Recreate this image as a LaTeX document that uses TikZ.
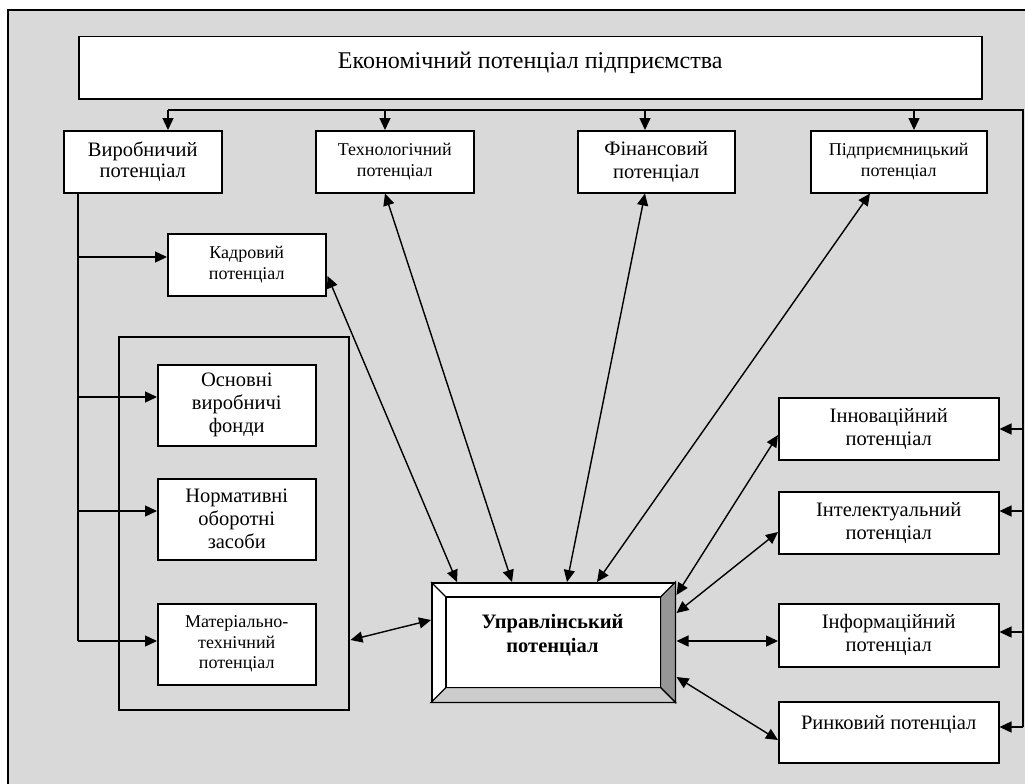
\documentclass[tikz,border=0pt]{standalone}
\usepackage{fontspec}
\setmainfont{Liberation Serif}
\usetikzlibrary{arrows.meta,calc}
\definecolor{bg}{HTML}{D9D9D9}
\definecolor{bevR}{HTML}{969696}
\definecolor{bevB}{HTML}{CCCCCC}
\newcommand\fs[2]{\fontsize{#1}{#2}\selectfont}
\newcommand\lift[2]{\raisebox{#1}[\height][\depth]{#2}}
\begin{document}
\begin{tikzpicture}[x=1pt,y=-1pt,
  box/.style={draw=black, line width=1.5pt, fill=white, inner sep=0pt, align=center, anchor=north west, font=\fs{20.5}{23}},
  small/.style={font=\fs{18}{20.5}},
  ln/.style={line width=1.4pt},
  arr/.style={line width=1.4pt, -{Triangle[length=12pt,width=11pt]}},
  darr/.style={line width=1.4pt, {Triangle[length=12pt,width=11pt]}-{Triangle[length=12pt,width=11pt]}}]
\useasboundingbox (0,0) rectangle (1025,784);
% background and frame
\fill[bg] (8,10) rectangle (1025,784);
\draw[line width=1.5pt] (8,784) -- (8,10) -- (1025,10);
% group frame
\node[draw, line width=1.5pt, minimum width=230pt, minimum height=373pt, anchor=north west, inner sep=0pt] (grp) at (118,336) {};
% boxes
\node[box, minimum width=903pt, minimum height=62pt, font=\fs{24}{27}] (eco) at (78,36) {\lift{5pt}{Економічний потенціал підприємства}};
\node[box, minimum width=158pt, minimum height=62pt] (vir) at (63,130) {\lift{-1pt}{\begin{tabular}{@{}c@{}}Виробничий\\[-2pt]потенціал\end{tabular}}};
\node[box, small, minimum width=158pt, minimum height=62pt] (tex) at (315,130) {Технологічний\\потенціал};
\node[box, minimum width=157pt, minimum height=62pt] (fin) at (577,130) {Фінансовий\\потенціал};
\node[box, small, minimum width=176pt, minimum height=62pt] (pid) at (810,130) {Підприємницький\\потенціал};
\node[box, small, minimum width=158pt, minimum height=62pt] (kad) at (167,233) {Кадровий\\потенціал};
\node[box, minimum width=158pt, minimum height=81pt] (osn) at (157,364) {Основні\\виробничі\\фонди};
\node[box, minimum width=158pt, minimum height=81pt] (nor) at (157,478) {Нормативні\\оборотні\\засоби};
\node[box, small, minimum width=158pt, minimum height=81pt] (mat) at (157,603) {Матеріально-\\технічний\\потенціал};
\node[box, minimum width=220pt, minimum height=62pt] (inn) at (778,397) {Інноваційний\\потенціал};
\node[box, minimum width=220pt, minimum height=62pt] (int) at (778,491) {Інтелектуальний\\потенціал};
\node[box, minimum width=220pt, minimum height=63pt] (inf) at (778,603) {Інформаційний\\потенціал};
\node[box, minimum width=220pt, minimum height=61pt] (rin) at (778,701) {\lift{8pt}{Ринковий потенціал}};
% management box with bevel
\node[draw, line width=1.5pt, fill=white, minimum width=243pt, minimum height=119pt, anchor=north west, inner sep=0pt] (upr) at (431,582) {};
\draw[line width=1.2pt, fill=bevR] (upr.north east) -- (upr.south east) -- ($(upr.south east)+(-15,-15)$) -- ($(upr.north east)+(-15,15)$) -- cycle;
\draw[line width=1.2pt, fill=bevB] (upr.south west) -- (upr.south east) -- ($(upr.south east)+(-15,-15)$) -- ($(upr.south west)+(15,-15)$) -- cycle;
\draw[line width=1.2pt] (upr.north west) -- ($(upr.north west)+(15,15)$);
\draw[line width=1.5pt, fill=white] ($(upr.north west)+(15,15)$) rectangle ($(upr.south east)+(-15,-15)$);
\node[font=\bfseries\fs{20.5}{24}, align=center] (uprtxt) at (552.5,635) {Управлінський\\потенціал};
% bus from the top
\coordinate (b1) at (168,110);
\coordinate (b2) at (385,110);
\coordinate (b3) at (645,110);
\coordinate (b4) at (914,110);
\coordinate (bR) at (1023,110);
\coordinate (bE) at (1023,727);
\draw[ln] (b1) -- (bR) -- (bE);
\draw[arr] (b1) -- (vir.north -| b1);
\draw[arr] (b2) -- (tex.north -| b2);
\draw[arr] (b3) -- (fin.north -| b3);
\draw[arr] (b4) -- (pid.north -| b4);
\draw[arr] (bR |- 0,429) -- (inn.east |- 0,429);
\draw[arr] (bR |- 0,511) -- (int.east |- 0,511);
\draw[arr] (bR |- 0,632) -- (inf.east |- 0,632);
\draw[arr] (bE) -- (rin.east |- bE);
% left spine from the production potential
\coordinate (v1) at ($(vir.south west)+(15,0)$);
\coordinate (v2) at (78,641);
\draw[ln] (v1) -- (v2);
\draw[arr] (v1 |- 0,257) -- (kad.west |- 0,257);
\draw[arr] (v1 |- 0,397) -- (osn.west |- 0,397);
\draw[arr] (v1 |- 0,511) -- (nor.west |- 0,511);
\draw[arr] (v2) -- (mat.west |- v2);
% links with the management potential
\draw[darr] ($(kad.north east)+(1,43)$) -- ($(upr.north west)+(26,0)$);
\draw[darr] ($(tex.south west)+(70,0)$) -- ($(upr.north west)+(81,0)$);
\draw[darr] ($(fin.south west)+(68,0)$) -- ($(upr.north west)+(136,0)$);
\draw[darr] ($(pid.south west)+(60,0)$) -- ($(upr.north west)+(166,0)$);
\draw[darr] ($(inn.north west)+(0,38)$) -- ($(upr.north east)+(1,13)$);
\draw[darr] ($(int.north west)+(0,41)$) -- ($(upr.north east)+(1,31)$);
\draw[darr] ($(inf.north west)+(0,38)$) -- ($(upr.north east)+(1,59)$);
\draw[darr] ($(rin.north west)+(0,39)$) -- ($(upr.north east)+(1,95)$);
\draw[darr] ($(grp.north east)+(1,304)$) -- ($(upr.north west)+(0,38)$);
\end{tikzpicture}
\end{document}
